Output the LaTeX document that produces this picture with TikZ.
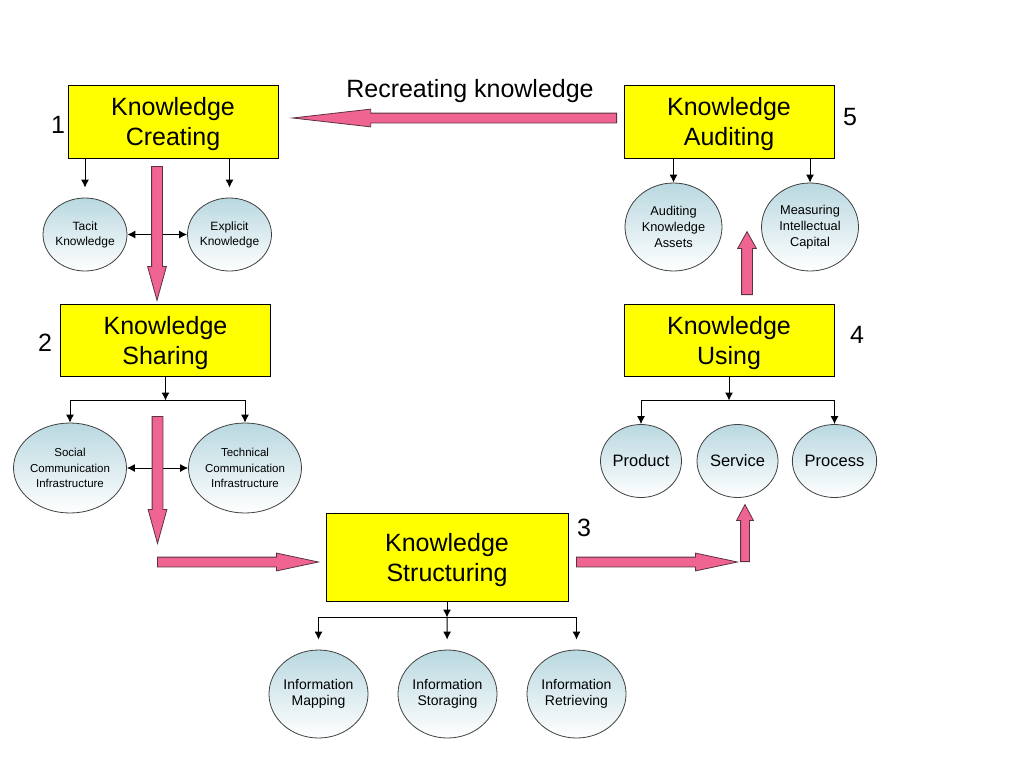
\documentclass[tikz,border=0pt]{standalone}
\usepackage{fontspec}
\setmainfont{Liberation Sans}
\usetikzlibrary{shapes.geometric,shapes.arrows,arrows.meta,positioning}
\definecolor{boxyellow}{RGB}{255,255,0}
\definecolor{circtop}{RGB}{185,216,224}
\definecolor{pinkfill}{RGB}{240,100,145}
\definecolor{pinkedge}{RGB}{90,50,65}
\tikzset{
  stage/.style={draw,fill=boxyellow,minimum width=210pt,minimum height=73pt,inner sep=0pt,
    text depth=0pt,align=center,font=\fontsize{25}{30}\selectfont},
  num/.style={inner sep=0pt,font=\fontsize{25}{29}\selectfont},
  item/.style={ellipse,draw=black!75,line width=0.8pt,top color=circtop,bottom color=white,
    inner sep=0pt,align=center},
  smallitem/.style={item,minimum width=81pt,minimum height=73pt},
  bigitem/.style={item,minimum width=97pt,minimum height=88pt},
  fat/.style={single arrow,draw=pinkedge,fill=pinkfill,line width=0.8pt,inner sep=5pt,
    single arrow head extend=4pt,single arrow head indent=0pt,anchor=tail}
}
\begin{document}
\begin{tikzpicture}[x=1pt,y=-1pt,>={Latex[length=8pt,width=8pt]},line width=1pt]
\useasboundingbox (0,0) rectangle (1024,768);
% stages
\node[stage] (create) at (173,121.5) {Knowledge\\Creating};
\node[stage,minimum height=72pt] (share) at (165.5,340) {Knowledge\\Sharing};
\node[stage,minimum width=242pt,minimum height=88pt] (struct) at (447,557) {Knowledge\\Structuring};
\node[stage,minimum height=72pt] (use) at (729,340) {Knowledge\\Using};
\node[stage] (audit) at (729,121.5) {Knowledge\\Auditing};
\node[num] (n1) at (58,125) {1};
\node[num] (n2) at (45,343) {2};
\node[num] (n3) at (584,528) {3};
\node[num] (n4) at (857,335) {4};
\node[num] (n5) at (850,117) {5};
\node[font=\fontsize{25}{29}\selectfont] (recreate) at (470,91.5) {Recreating knowledge};
% items
\node[smallitem,minimum width=80pt,font=\fontsize{12}{15}\selectfont] (tacit) at (85,234.5) {Tacit\\Knowledge};
\node[smallitem,font=\fontsize{12}{15}\selectfont] (explicit) at (229.5,234.5) {Explicit\\Knowledge};
\node[item,minimum width=94pt,minimum height=90pt,font=\fontsize{11.5}{15.3}\selectfont] (social) at (70,468) {Social\\Communication\\Infrastructure};
\node[item,minimum width=99pt,minimum height=90pt,font=\fontsize{11.5}{15.3}\selectfont] (technical) at (245,468) {Technical\\Communication\\Infrastructure};
\node[bigitem,font=\fontsize{14}{16.7}\selectfont] (mapping) at (318.5,694) {Information\\Mapping};
\node[bigitem,font=\fontsize{14}{16.7}\selectfont] (storaging) at (447.5,694) {Information\\Storaging};
\node[bigitem,font=\fontsize{14}{16.7}\selectfont] (retrieving) at (576.5,694) {Information\\Retrieving};
\node[smallitem,font=\fontsize{16.5}{20}\selectfont] (product) at (641,461) {Product};
\node[smallitem,font=\fontsize{16.5}{20}\selectfont] (service) at (737.5,461) {Service};
\node[smallitem,font=\fontsize{16.5}{20}\selectfont] (process) at (834.5,461) {Process};
\node[bigitem,font=\fontsize{12.8}{15.8}\selectfont] (assets) at (673.5,227) {Auditing\\Knowledge\\Assets};
\node[bigitem,font=\fontsize{12.8}{15.8}\selectfont] (capital) at (810,227) {Measuring\\Intellectual\\Capital};
% tree connectors
\draw[->,shorten >=10pt] (create.south -| tacit) -- (tacit);
\draw[->,shorten >=10pt] (create.south -| explicit) -- (explicit);
\draw[<->] (tacit) -- (explicit);
\coordinate[below=24pt of share] (sharejoin);
\draw[->] (share) -- (sharejoin);
\draw[->] (sharejoin) -| (social);
\draw[->] (sharejoin) -| (technical);
\draw[<->] (social) -- (technical);
\coordinate[below=16pt of struct] (structjoin);
\draw[->] (struct) -- (structjoin);
\draw[->,shorten >=10pt] (structjoin) -| (mapping);
\draw[->,shorten >=10pt] (structjoin) -- (storaging);
\draw[->,shorten >=10pt] (structjoin) -| (retrieving);
\coordinate[below=24pt of use] (usejoin);
\draw[->] (use) -- (usejoin);
\draw[->] (usejoin) -| (product);
\draw[->] (usejoin) -| (process);
\draw[->] (audit.south -| assets) -- (assets);
\draw[->] (audit.south -| capital) -- (capital);
% big pink arrows
\node[fat,minimum height=134pt,single arrow tip angle=31,shape border rotate=270] (createdown) at (157,166) {};
\node[fat,minimum height=127pt,single arrow tip angle=31,shape border rotate=270] (sharedown) at (157.5,416) {};
\node[fat,inner sep=4.5pt,minimum height=161pt,single arrow tip angle=24] (toStruct) at (157,562) {};
\node[fat,inner sep=4.5pt,minimum height=161pt,single arrow tip angle=24] (fromStruct) at (576,562) {};
\node[fat,inner sep=4pt,minimum height=57pt,single arrow tip angle=56,shape border rotate=90] (toUse) at (745,562) {};
\node[fat,minimum height=63pt,single arrow tip angle=58,shape border rotate=90] (toAudit) at (747,295) {};
\node[fat,inner sep=4.5pt,minimum height=324pt,single arrow tip angle=13,shape border rotate=180] (recreatearrow) at (617,118) {};
\end{tikzpicture}
\end{document}
